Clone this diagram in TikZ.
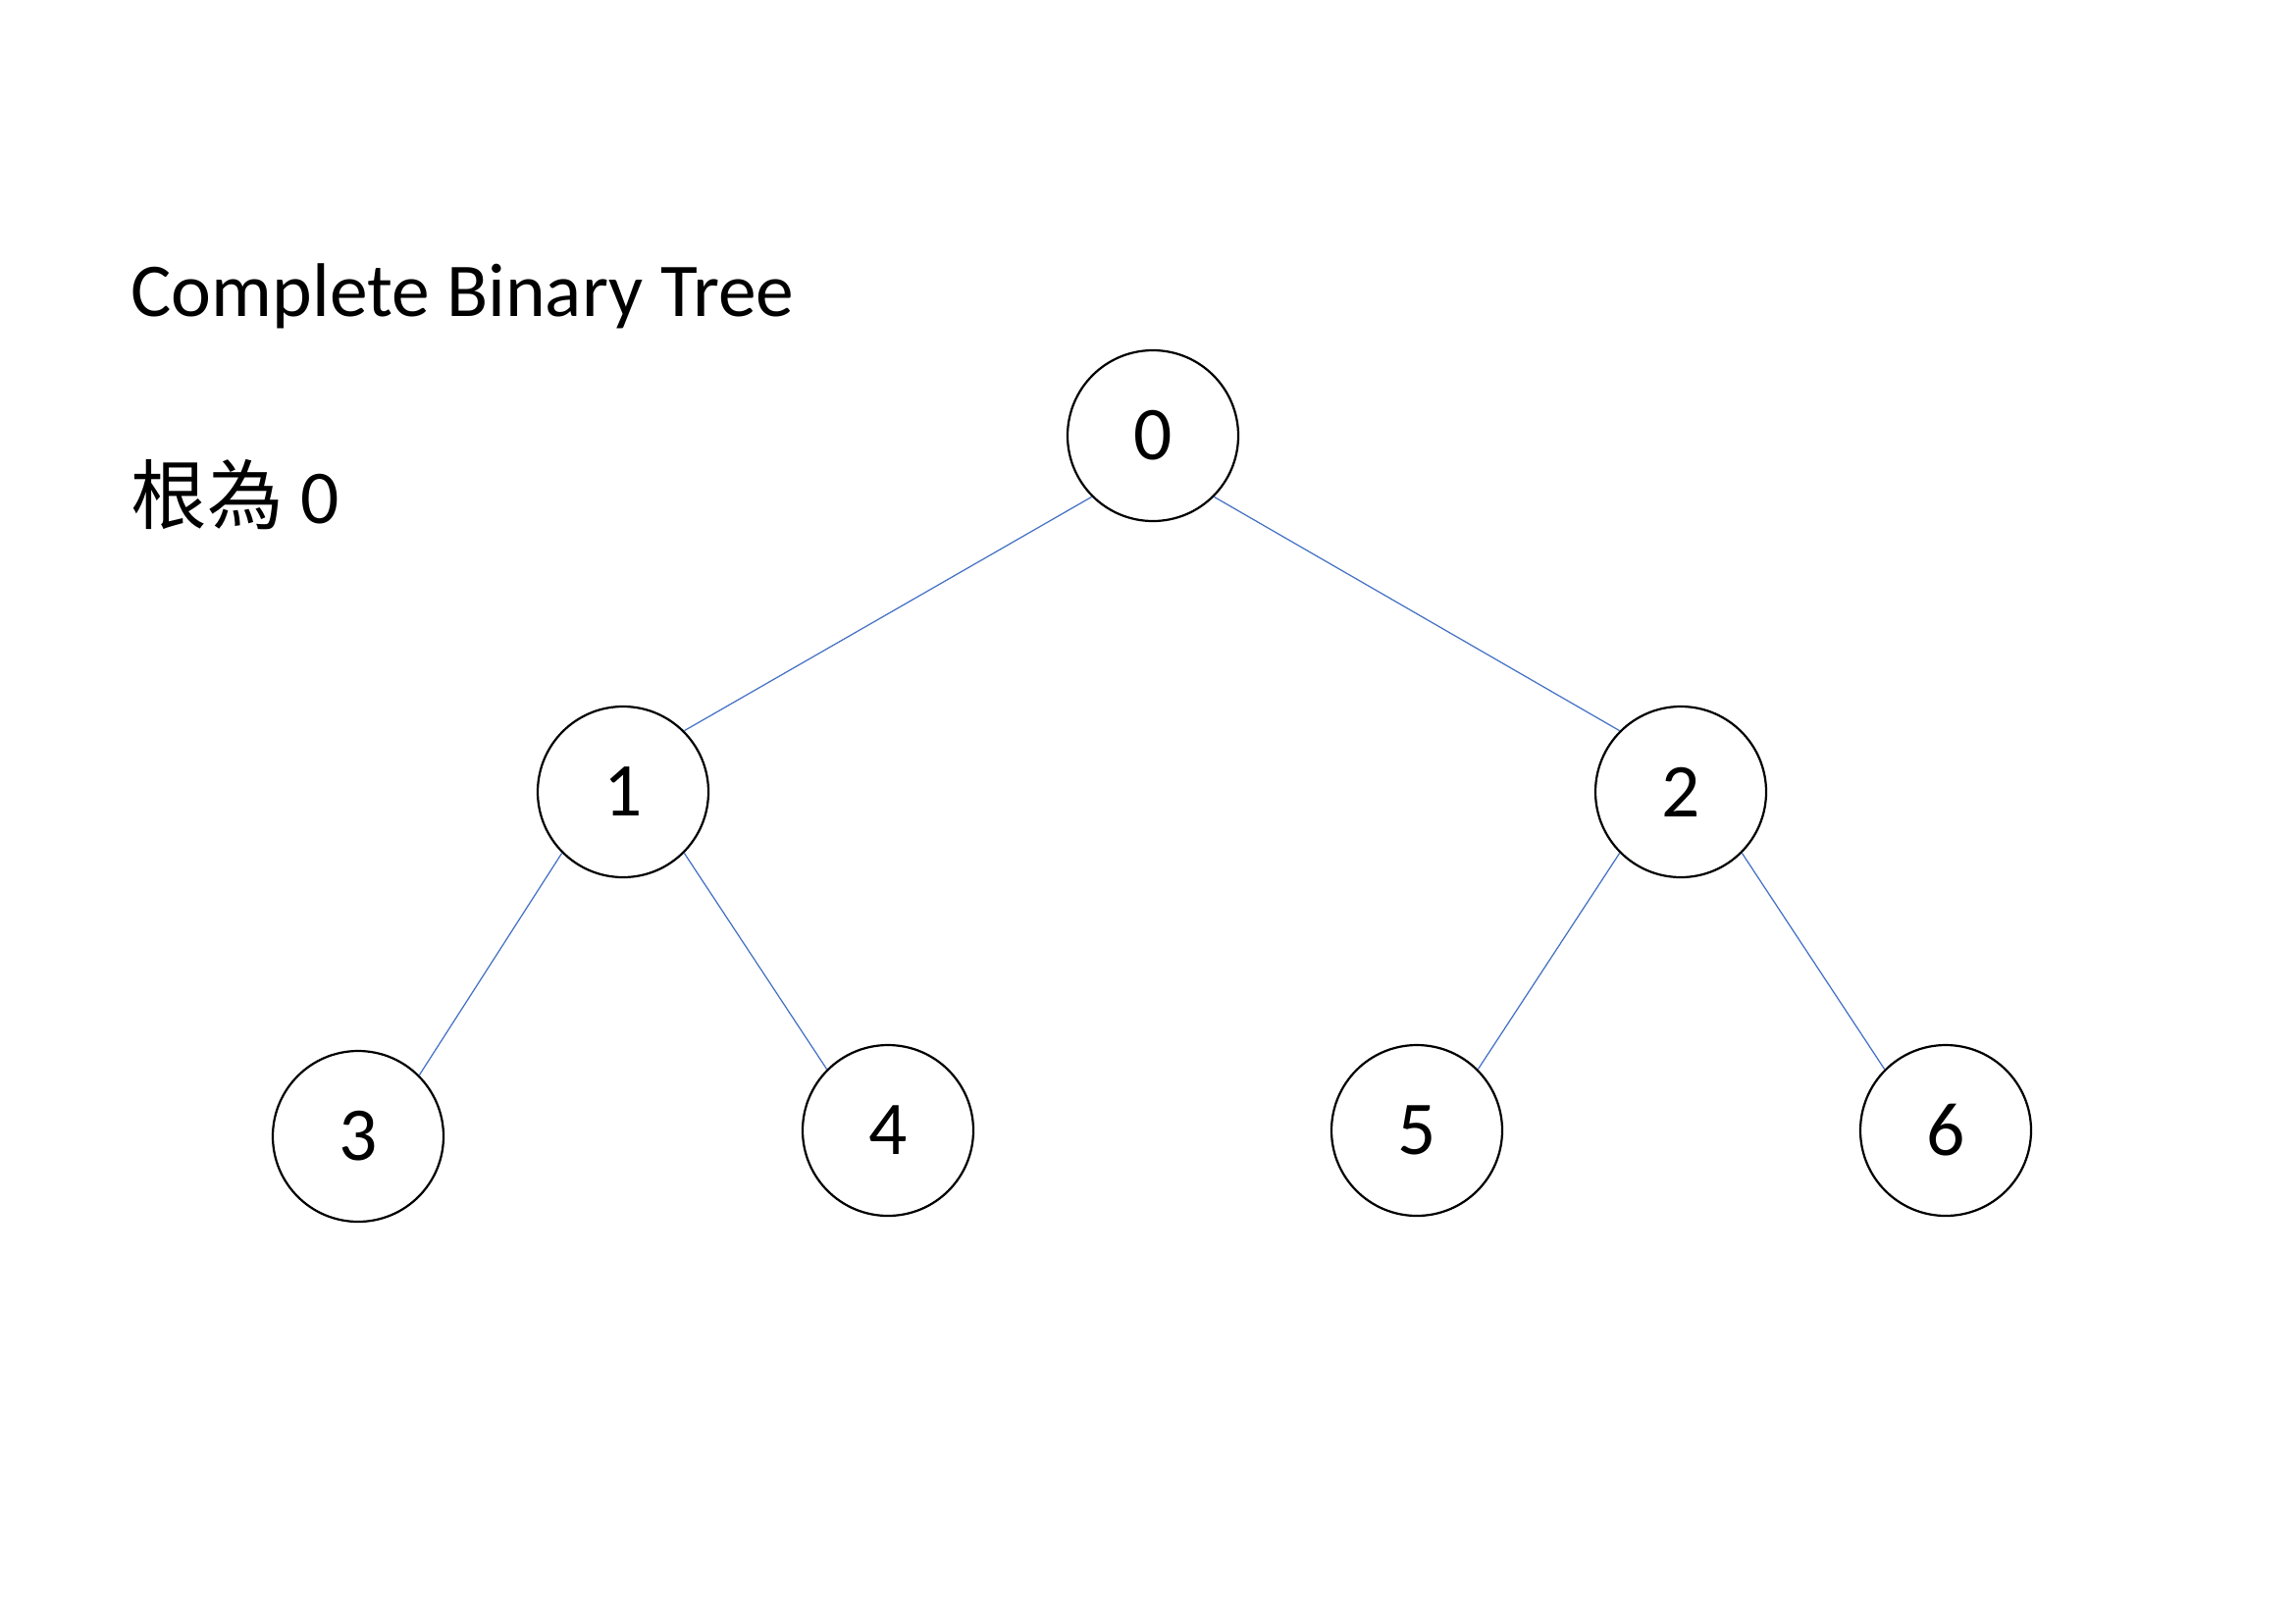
\documentclass[tikz,border=0pt]{standalone}
\usepackage{fontspec}
\setmainfont{Carlito}
\newfontfamily\cjk{Noto Sans CJK TC}
\tikzset{
  vertex/.style={draw, circle, line width=0.8pt, minimum size=174*0.127mm, inner sep=0pt, font=\fontsize{28}{32}\selectfont},
  edge/.style={draw=edgeblue, line width=0.45pt}
}
\definecolor{edgeblue}{HTML}{4472C4}
\begin{document}
\begin{tikzpicture}[x=0.127mm, y=-0.127mm]
\useasboundingbox (0,0) rectangle (2339,1654);
\node[anchor=base west, inner sep=0pt, font=\fontsize{28}{32}\selectfont] (title) at (133,322) {Complete Binary Tree};
\node[anchor=base west, inner sep=0pt, font=\fontsize{28}{32}\selectfont] (root) at (133,533) {{\cjk 根為} 0};
\node[vertex] (n0) at (1175,444) {0};
\node[vertex] (n1) at (635,807) {1};
\node[vertex] (n2) at (1713,807) {2};
\node[vertex] (n3) at (365,1158) {3};
\node[vertex] (n4) at (905,1152) {4};
\node[vertex] (n5) at (1444,1152) {5};
\node[vertex] (n6) at (1983,1152) {6};
\draw[edge] (n0.south west) -- (n1.north east);
\draw[edge] (n0.south east) -- (n2.north west);
\draw[edge] (n1.south west) -- (n3.north east);
\draw[edge] (n1.south east) -- (n4.north west);
\draw[edge] (n2.south west) -- (n5.north east);
\draw[edge] (n2.south east) -- (n6.north west);
\end{tikzpicture}
\end{document}
